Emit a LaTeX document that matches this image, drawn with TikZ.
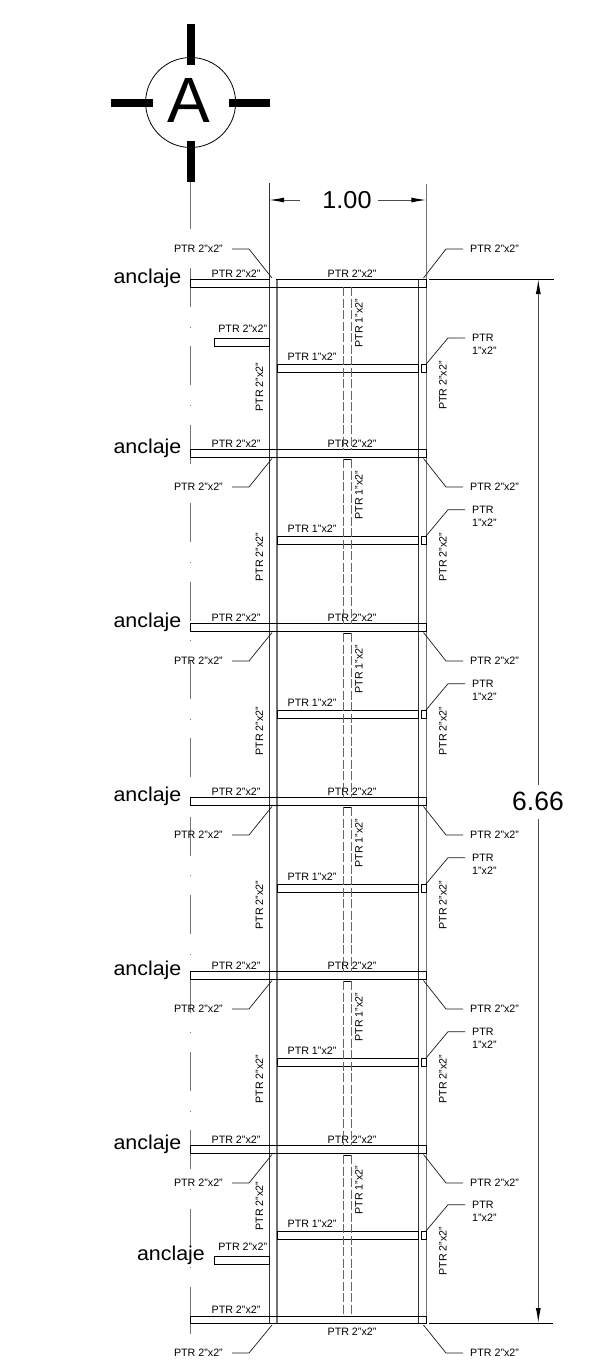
\documentclass[tikz,border=0pt]{standalone}
\usepackage{fontspec}
\setmainfont{Liberation Sans}
\newfontfamily\anchorfont[FakeStretch=1.07]{Liberation Sans}
\newfontfamily\widthfont[FakeStretch=1.03]{Liberation Sans}
\usetikzlibrary{arrows.meta}
\tikzset{
    beamline/.style={line width=0.9pt, black},
    colline/.style={line width=1pt, black!80},
    graycol/.style={line width=1.5pt, black!55},
    leader/.style={line width=0.7pt, black!90},
    dashline/.style={line width=1pt, black!60, dash pattern=on 9pt off 2.5pt},
    axisline/.style={line width=1pt, black!55, dash pattern=on 39pt off 19.6pt on 0.8pt off 19pt},
    dimline/.style={line width=1pt, black!70},
    dimtip/.style={-{Latex[length=15pt, width=5pt, black]}},
    ptr/.style={font=\fontsize{10.7}{12}\selectfont, inner sep=0pt, text=black},
    anchortext/.style={font=\anchorfont\fontsize{20}{22}\selectfont, inner sep=0pt, anchor=base},
    tick/.style={fill=black}
}
\begin{document}
\begin{tikzpicture}[x=1pt, y=-1pt]
    \useasboundingbox (0, 0) rectangle (614, 1361);
    % section bubble
    \node[circle, draw, line width=0.8pt, minimum size=90pt, inner sep=0pt] (bubble) at (190.6, 102.5) {};
    \node[font=\fontsize{64}{70}\selectfont, inner sep=0pt] (bubbletext) at (189, 100.3) {A};
    \fill[tick] (186.6, 23.5) rectangle (195, 64.5);
    \fill[tick] (186.6, 140.5) rectangle (195, 181.5);
    \fill[tick] (111, 98.5) rectangle (152.5, 107);
    \fill[tick] (228.5, 98.5) rectangle (270, 107);
    % center line
    \draw[line width=1pt, black!55] (190.5, 182) -- (190.5, 229);
    \draw[axisline] (190.5, 268) -- (190.5, 1334);
    \draw[line width=1pt, black!55] (190.5, 1325) -- (190.5, 1334);
    % columns
    \draw[colline] (269.2, 183) -- (269.2, 1323);
    \draw[graycol] (277, 279) -- (277, 1323);
    \draw[colline] (418.3, 279) -- (418.3, 1323);
    \draw[graycol] (426.3, 184) -- (426.3, 1323);
    % bays, top of beam / middle beam / vertical labels
    \foreach \ytop/\ymid/\yleft/\yright/\ydash [count=\i] in {279/364.3/387/385.5/323, 449.5/536/557/557/495, 623.5/710/731/731/669, 797.5/884/905/905/843, 971.5/1058/1079/1079/1017, 1145.5/1231/1206/1251/1190}{
        \draw[beamline] (190.5, \ytop) rectangle (426.3, \ytop+8);
        \draw[beamline] (277, \ymid) rectangle (418.3, \ymid+8);
        \draw[line width=0.6pt] (421.7, \ymid) rectangle (426.3, \ymid+8);
        \node[ptr] (beamleft\i) at (236, \ytop-5.5) {PTR 2"x2"};
        \node[ptr] (beammid\i) at (352, \ytop-5.5) {PTR 2"x2"};
        \node[ptr] (midlabel\i) at (312, \ymid-7.5) {PTR 1"x2"};
        \node[ptr, rotate=90] (colleft\i) at (259.5, \yleft) {PTR 2"x2"};
        \node[ptr, rotate=90] (colright\i) at (443, \yright) {PTR 2"x2"};
        \node[ptr, rotate=90] (dashlabel\i) at (359, \ydash) {PTR 1"x2"};
        \node[anchortext] (anchor\i) at (147.5, \ytop+4.3) {anclaje};
        % PTR 1x2 leader on the right
        \node[ptr, anchor=west] (smalla\i) at (472, \ymid-26.3) {PTR};
        \node[ptr, anchor=west] (smallb\i) at (472, \ymid-13.3) {1"x2"};
        \coordinate (smalltip\i) at (426, \ymid);
        \draw[leader] (smalla\i.west) ++(-7, 0) -- ++(-17, 0) -- (smalltip\i);
    }
    % gap in the top beam at the column
    \draw[white, line width=1.2pt] (270.2, 279) -- (276, 279);
    % bottom beam
    \draw[beamline] (190.5, 1316) rectangle (426.3, 1323.5);
    \node[ptr] (beamleft7) at (236, 1310) {PTR 2"x2"};
    \node[ptr] (beambottom) at (352, 1332) {PTR 2"x2"};
    % dashed tube
    \foreach \ya/\yb in {287/449.5, 459/623.5, 633/797.5, 807/971.5, 981/1145.5, 1155/1316}{
        \draw[dashline] (343.7, \ya) -- (343.7, \yb);
        \draw[dashline] (351.3, \ya) -- (351.3, \yb);
    }
    \foreach \ya in {459, 633, 807, 981, 1155}{
        \draw[line width=0.8pt] (343.7, \ya) -- (351.3, \ya);
    }
    % leaders at the beam ends
    \foreach \ylab/\ytip [count=\i] in {249/278, 487/458.5, 661/632.5, 835/806.5, 1009/980.5, 1183/1154.5, 1353/1325}{
        \node[ptr, anchor=east] (leftlabel\i) at (223, \ylab) {PTR 2"x2"};
        \node[ptr, anchor=west] (rightlabel\i) at (470, \ylab) {PTR 2"x2"};
        \coordinate (lefttip\i) at (272, \ytip);
        \coordinate (righttip\i) at (423.5, \ytip);
        \draw[leader] (leftlabel\i.east) ++(9, 0) -- ++(17, 0) -- (lefttip\i);
        \draw[leader] (rightlabel\i.west) ++(-7, 0) -- ++(-17, 0) -- (righttip\i);
    }
    % short anchor plates
    \draw[beamline] (214.3, 338.3) rectangle (269.2, 346);
    \node[ptr] (platetext1) at (242.7, 329) {PTR 2"x2"};
    \draw[beamline] (214.3, 1256.7) rectangle (269.2, 1264.7);
    \node[ptr] (platetext2) at (242.7, 1247) {PTR 2"x2"};
    \node[anchortext] (anchor7) at (171, 1260) {anclaje};
    % dimensions
    \node[font=\widthfont\fontsize{24.5}{28}\selectfont, inner sep=0pt] (width) at (347, 200) {1.00};
    \coordinate (widthleft) at (269.2, 200);
    \coordinate (widthright) at (426.3, 200);
    \draw[dimline, dimtip] (width.west) ++(-22, 0) -- (widthleft);
    \draw[dimline, dimtip] (width.east) ++(6, 0) -- (widthright);
    \node[font=\fontsize{26.5}{30}\selectfont, inner sep=0pt] (height) at (538, 801.7) {6.66};
    \coordinate (heighttop) at (538.3, 279);
    \coordinate (heightbottom) at (538.3, 1323);
    \draw[dimline, dimtip] (height.north) ++(0.3, -7.5) -- (heighttop);
    \draw[dimline, dimtip] (height.south) ++(0.3, 7.5) -- (heightbottom);
    \draw[beamline] (429, 279) -- (554, 279);
    \draw[beamline] (429, 1323) -- (553, 1323);
\end{tikzpicture}
\end{document}
